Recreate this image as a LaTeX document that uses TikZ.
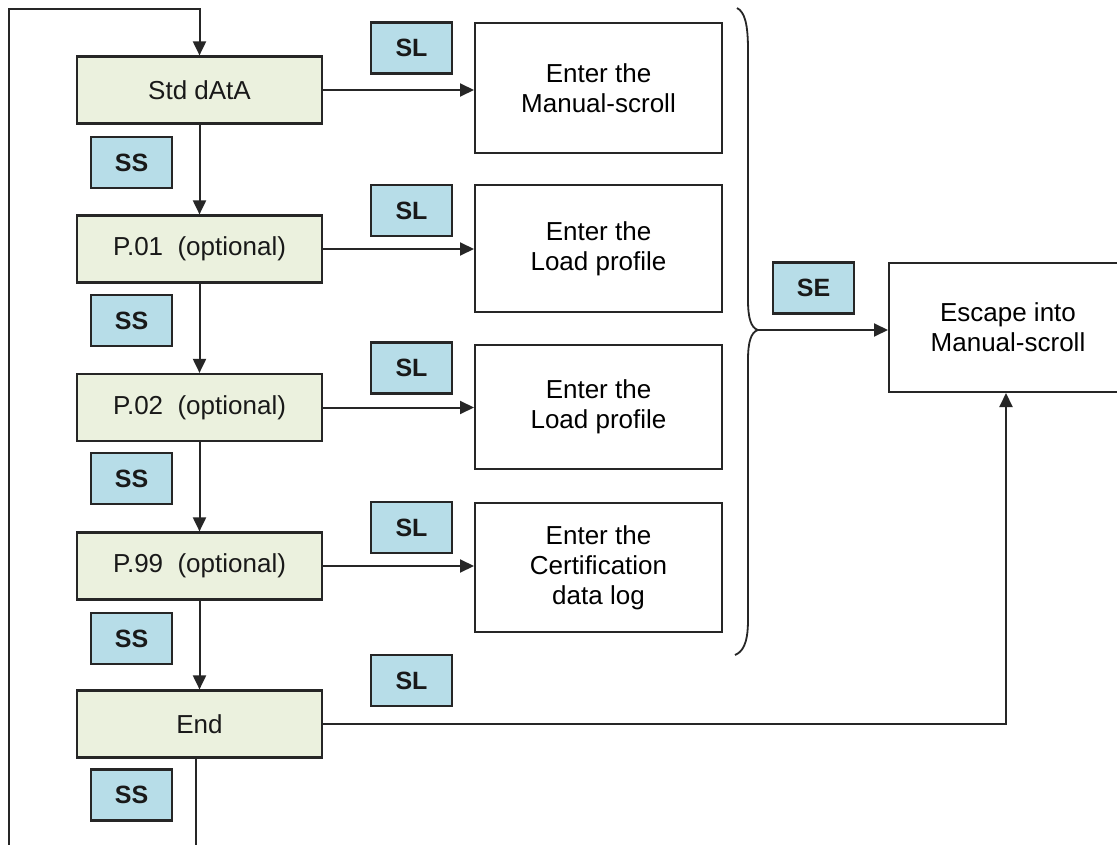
\documentclass[tikz,border=0pt]{standalone}
\usepackage{fontspec}
\setmainfont{Liberation Sans}
\newfontfamily\keyfam{Liberation Sans}
\usetikzlibrary{arrows.meta}
\definecolor{greenfill}{HTML}{EBF1DE}
\definecolor{keyfill}{HTML}{B7DDE8}
\begin{document}
\begin{tikzpicture}[x=1pt,y=-1pt,
  every node/.style={font=\fontsize{26}{30}\selectfont},
  greenbox/.style={draw=black!85, line width=2.2pt, fill=greenfill, minimum width=245pt, minimum height=67pt, inner sep=0pt, text=black!90},
  keybox/.style={draw=black!85, line width=2.2pt, fill=keyfill, minimum width=81pt, minimum height=51pt, inner sep=0pt, font={\keyfam\bfseries\fontsize{25}{28}\selectfont}, text=black!90},
  whitebox/.style={draw=black!85, line width=2pt, fill=white, minimum width=247pt, inner sep=0pt, align=center},
  conn/.style={line width=2pt, draw=black!85, -{Triangle[length=14pt,width=13pt]}},
]
\clip (0,0) rectangle (1117,845);
\fill[white] (0,0) rectangle (1117,845);

% green state boxes
\node[greenbox] (std) at (199.5,90)  {Std dAtA};
\node[greenbox] (p01) at (199.5,249) {P.01\ \ (optional)};
\node[greenbox] (p02) at (199.5,407.5) {P.02\ \ (optional)};
\node[greenbox] (p99) at (199.5,566) {P.99\ \ (optional)};
\node[greenbox] (end) at (199.5,724) {End};

% SS keys
\node[keybox] (ss1) at (131.5,162.5) {SS};
\node[keybox] (ss2) at (131.5,320.5) {SS};
\node[keybox] (ss3) at (131.5,478.5) {SS};
\node[keybox] (ss4) at (131.5,638.5) {SS};
\node[keybox] (ss5) at (131.5,795)   {SS};

% SL keys
\node[keybox] (sl1) at (411.5,48)    {SL};
\node[keybox] (sl2) at (411.5,210.5) {SL};
\node[keybox] (sl3) at (411.5,368)   {SL};
\node[keybox] (sl4) at (411.5,527.5) {SL};
\node[keybox] (sl5) at (411.5,680.5) {SL};

% SE key
\node[keybox] (se) at (813.5,288) {SE};

% right boxes
\node[whitebox, minimum height=130pt] (r1) at (598.5,88)    {Enter the\\Manual-scroll};
\node[whitebox, minimum height=127pt] (r2) at (598.5,248.5)  {Enter the\\Load profile};
\node[whitebox, minimum height=124pt] (r3) at (598.5,407)    {Enter the\\Load profile};
\node[whitebox, minimum height=129pt] (r4) at (598.5,567.5)  {Enter the\\Certification\\data log};

% escape box (extends past right edge)
\node[whitebox, minimum width=238pt, minimum height=129pt] (esc) at (1008,327.5) {Escape into\\Manual-scroll};

% brace
\coordinate (bracetip) at (758,330);
\draw[line width=1.8pt, black!85]
  (737,8) .. controls (745,12) and (748,25) .. (748,50)
  -- (748,300) .. controls (748,318) and (751,328) .. (bracetip)
  .. controls (751,332) and (748,342) .. (748,360)
  -- (748,620) .. controls (748,645) and (742,652) .. (735,655);

% vertical SS flow
\draw[conn] (std.south) -- (p01.north);
\draw[conn] (p01.south) -- (p02.north);
\draw[conn] (p02.south) -- (p99.north);
\draw[conn] (p99.south) -- (end.north);

% SL arrows
\draw[conn] (std.east) -- (std.east -| r1.west);
\draw[conn] (p01.east) -- (p01.east -| r2.west);
\draw[conn] (p02.east) -- (p02.east -| r3.west);
\draw[conn] (p99.east) -- (p99.east -| r4.west);

% SE arrow
\draw[conn] (bracetip) -- (bracetip -| esc.west);

% End -> escape
\coordinate (endturn) at (1006,724);
\draw[conn] (end.east) -- (endturn) -- (endturn |- esc.south);

% loop back
\coordinate (loopbl) at (8.5,870);
\coordinate (looptl) at (8.5,9);
\draw[conn] ([xshift=-4pt]end.south) -- ([xshift=-4pt]end.south |- loopbl) -- (loopbl) -- (looptl) -- (looptl -| std.north) -- (std.north);
\end{tikzpicture}
\end{document}
